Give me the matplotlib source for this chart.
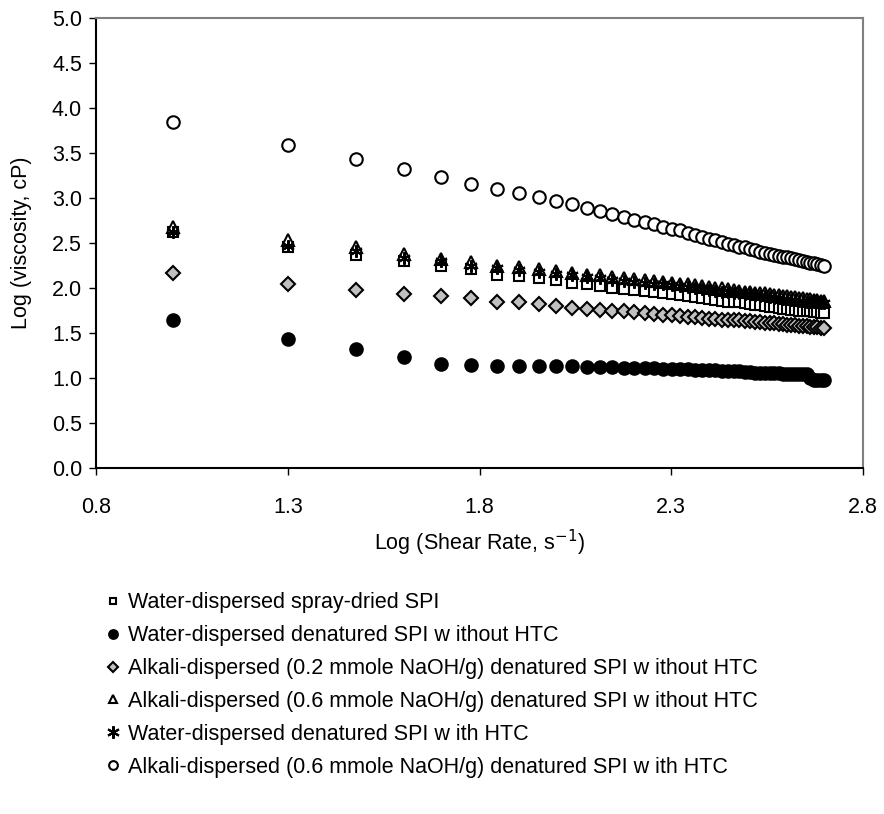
import numpy as np
import matplotlib
matplotlib.use('agg')
import matplotlib.pyplot as plt

plt.rcParams['font.family'] = ['Liberation Sans', 'DejaVu Sans']

# shear rates 10..500 s-1 in steps of 10
shear_rate = [10, 20, 30, 40, 50, 60, 70, 80, 90, 100,
              110, 120, 130, 140, 150, 160, 170, 180, 190, 200,
              210, 220, 230, 240, 250, 260, 270, 280, 290, 300,
              310, 320, 330, 340, 350, 360, 370, 380, 390, 400,
              410, 420, 430, 440, 450, 460, 470, 480, 490, 500]

spray_dried = [2.62, 2.46, 2.37, 2.30, 2.24, 2.21, 2.15, 2.13, 2.11, 2.09,
               2.06, 2.04, 2.02, 2.00, 1.99, 1.98, 1.97, 1.96, 1.94, 1.93,
               1.92, 1.91, 1.90, 1.89, 1.88, 1.87, 1.86, 1.85, 1.84, 1.84,
               1.83, 1.82, 1.81, 1.81, 1.80, 1.79, 1.79, 1.78, 1.77, 1.77,
               1.76, 1.76, 1.75, 1.75, 1.74, 1.74, 1.73, 1.73, 1.72, 1.72]

water_no_htc = [1.65, 1.43, 1.32, 1.23, 1.16, 1.14, 1.13, 1.13, 1.13, 1.13,
                1.13, 1.12, 1.12, 1.12, 1.11, 1.11, 1.11, 1.11, 1.10, 1.10,
                1.10, 1.10, 1.09, 1.09, 1.09, 1.09, 1.08, 1.08, 1.08, 1.08,
                1.07, 1.07, 1.06, 1.06, 1.06, 1.06, 1.06, 1.06, 1.05, 1.05,
                1.05, 1.05, 1.05, 1.05, 1.04, 1.00, 0.98, 0.98, 0.98, 0.98]

alkali02_no_htc = [2.17, 2.04, 1.98, 1.93, 1.91, 1.89, 1.85, 1.84, 1.82, 1.80,
                   1.78, 1.77, 1.76, 1.75, 1.74, 1.73, 1.72, 1.71, 1.70, 1.70,
                   1.69, 1.68, 1.68, 1.67, 1.66, 1.66, 1.65, 1.65, 1.64, 1.64,
                   1.63, 1.63, 1.62, 1.62, 1.61, 1.61, 1.61, 1.60, 1.60, 1.59,
                   1.59, 1.59, 1.58, 1.58, 1.58, 1.57, 1.57, 1.57, 1.56, 1.56]

alkali06_no_htc = [2.68, 2.53, 2.45, 2.38, 2.32, 2.29, 2.25, 2.23, 2.21, 2.19,
                   2.17, 2.15, 2.14, 2.12, 2.11, 2.10, 2.09, 2.08, 2.07, 2.06,
                   2.05, 2.04, 2.03, 2.02, 2.01, 2.00, 2.00, 1.99, 1.98, 1.97,
                   1.96, 1.96, 1.95, 1.94, 1.94, 1.93, 1.92, 1.92, 1.91, 1.91,
                   1.90, 1.90, 1.89, 1.89, 1.88, 1.88, 1.87, 1.87, 1.86, 1.86]

water_htc = [2.62, 2.47, 2.415, 2.33, 2.30, 2.24, 2.22, 2.20, 2.18, 2.16,
             2.14, 2.12, 2.11, 2.09, 2.08, 2.07, 2.06, 2.05, 2.04, 2.03,
             2.02, 2.01, 2.00, 1.99, 1.98, 1.97, 1.96, 1.96, 1.95, 1.94,
             1.93, 1.93, 1.92, 1.91, 1.91, 1.90, 1.89, 1.89, 1.88, 1.88,
             1.87, 1.87, 1.86, 1.86, 1.85, 1.85, 1.84, 1.84, 1.83, 1.83]

alkali06_htc = [3.85, 3.585, 3.43, 3.32, 3.23, 3.16, 3.10, 3.06, 3.01, 2.97,
                2.93, 2.89, 2.855, 2.82, 2.79, 2.76, 2.73, 2.71, 2.68, 2.66,
                2.64, 2.61, 2.59, 2.57, 2.55, 2.53, 2.51, 2.49, 2.48, 2.46,
                2.45, 2.43, 2.42, 2.40, 2.39, 2.38, 2.37, 2.36, 2.35, 2.34,
                2.33, 2.32, 2.31, 2.30, 2.29, 2.28, 2.28, 2.27, 2.26, 2.25]

labels = ['Water-dispersed spray-dried SPI',
          'Water-dispersed denatured SPI w ithout HTC',
          'Alkali-dispersed (0.2 mmole NaOH/g) denatured SPI w ithout HTC',
          'Alkali-dispersed (0.6 mmole NaOH/g) denatured SPI w ithout HTC',
          'Water-dispersed denatured SPI w ith HTC',
          'Alkali-dispersed (0.6 mmole NaOH/g) denatured SPI w ith HTC']

x = np.log10(shear_rate)

fig = plt.figure(figsize=(8.84, 8.14), dpi=100)
ax = fig.add_axes([96 / 884, 1 - 468 / 814, (863 - 96) / 884, (468 - 18) / 814])

series = [
    (spray_dried, dict(marker='s', ms=7, mfc='white', mec='black')),
    (water_no_htc, dict(marker='o', ms=9, mfc='black', mec='black')),
    (alkali02_no_htc, dict(marker='D', ms=7, mfc='#c0c0c0', mec='black')),
    (alkali06_no_htc, dict(marker='^', ms=8, mfc='white', mec='black')),
    (water_htc, dict(marker=(6, 2, 0), ms=9, mfc='black', mec='black')),
    (alkali06_htc, dict(marker='o', ms=9, mfc='white', mec='black')),
]
handles = []
for (y, style), lab in zip(series, labels):
    h, = ax.plot(x, y, linestyle='none', mew=1.5, label=lab, **style)
    handles.append(h)

fs = 15.5
ax.set_xlim(0.8, 2.8)
ax.set_ylim(0, 5)
ax.set_xticks([0.8, 1.3, 1.8, 2.3, 2.8])
ax.set_yticks(np.arange(0, 5.01, 0.5))
ax.xaxis.set_major_formatter(matplotlib.ticker.FormatStrFormatter('%.1f'))
ax.yaxis.set_major_formatter(matplotlib.ticker.FormatStrFormatter('%.1f'))
ax.tick_params(direction='out', length=5, width=1, labelsize=fs, pad=5)
ax.tick_params(axis='x', pad=16)
for s in ['top', 'right']:
    ax.spines[s].set_color('#808080')
    ax.spines[s].set_linewidth(1.5)
for s in ['left', 'bottom']:
    ax.spines[s].set_linewidth(1.5)

ax.set_xlabel('Log (Shear Rate, s$^{-1}$)', fontsize=fs, labelpad=7)
ax.set_ylabel('Log (viscosity, cP)', fontsize=fs, labelpad=14)

leg = fig.legend(handles=handles, loc='upper left', bbox_to_anchor=(87 / 884, 1 - 573 / 814),
                 frameon=False, fontsize=fs, markerscale=0.7, handlelength=0.6,
                 handletextpad=0.4, labelspacing=0.55)
# asterisk looks too small when scaled, bump it back up
leg.legend_handles[4].set_markersize(9)

fig.savefig('out.png', dpi=100)
